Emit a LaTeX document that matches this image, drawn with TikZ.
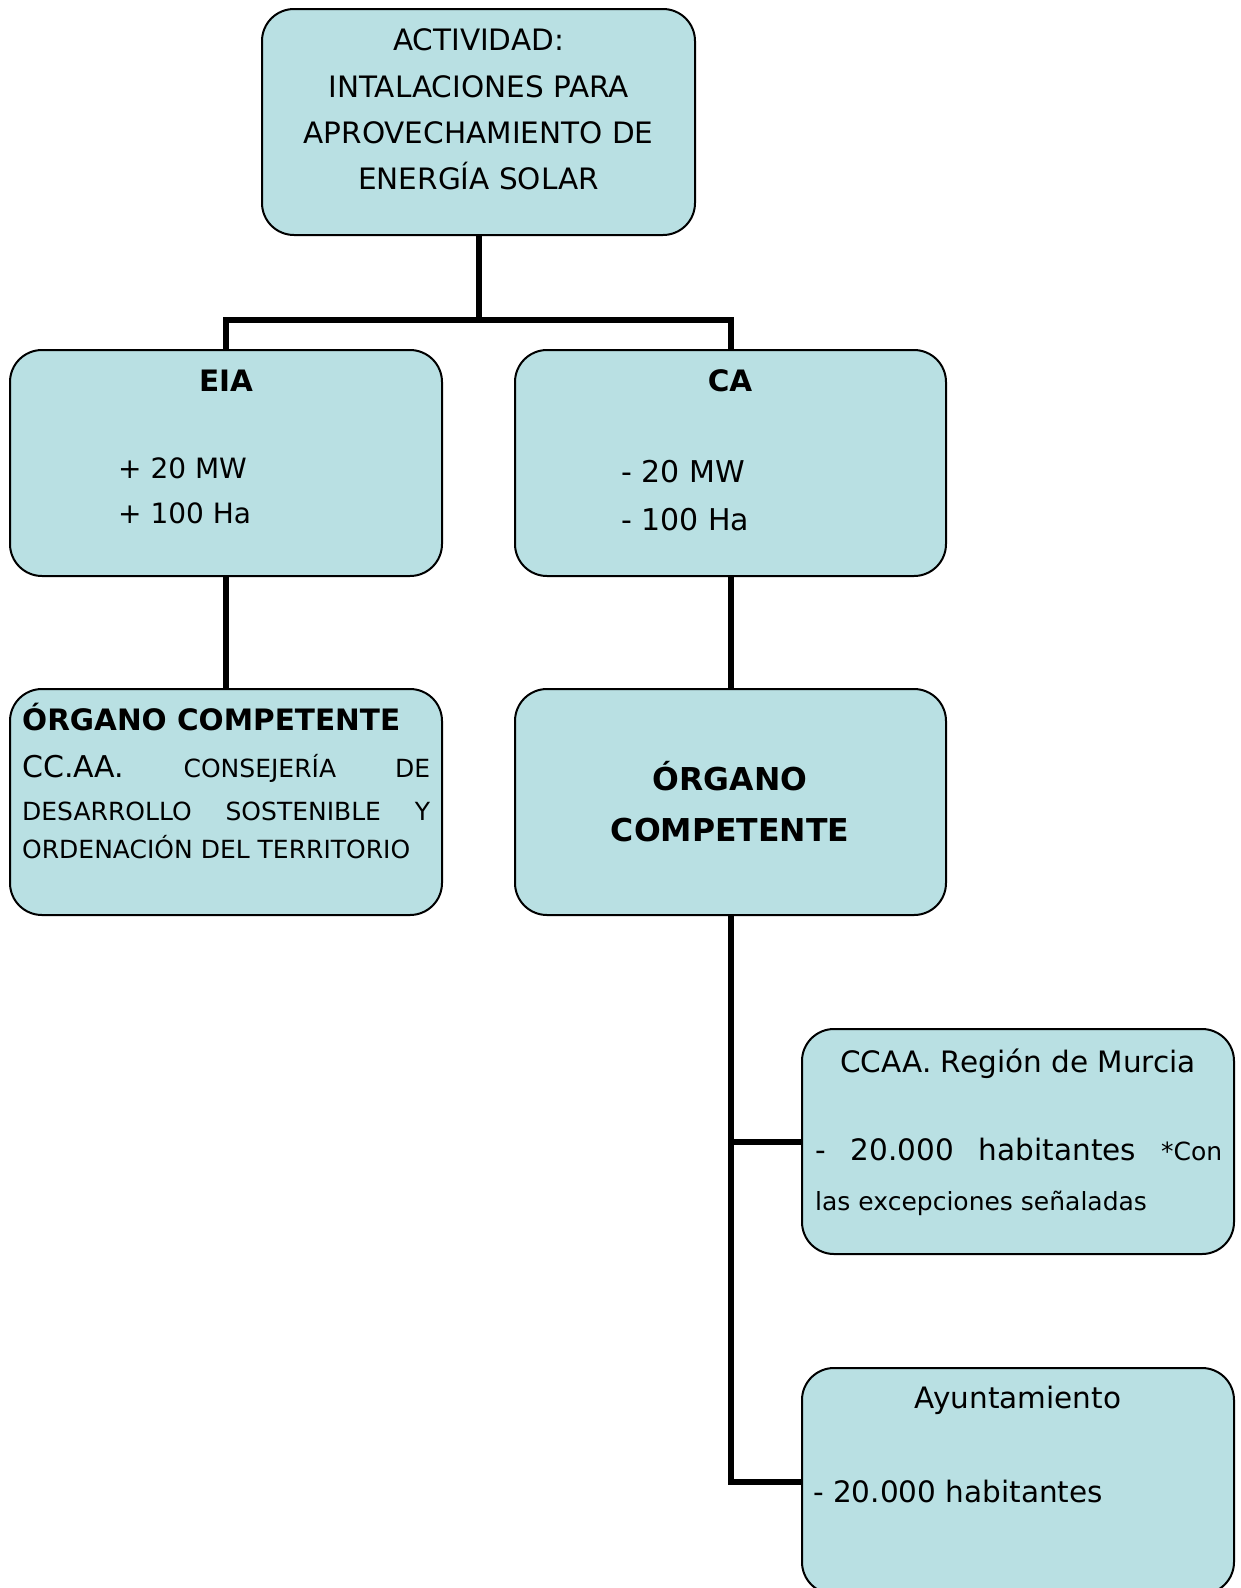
\documentclass[tikz,border=0pt]{standalone}
\usepackage{fontspec}
\setmainfont{DejaVu Sans}
\definecolor{boxfill}{RGB}{185,224,227}
\begin{document}
\begin{tikzpicture}[x=1pt,y=-1pt,
  box/.style={draw=black,line width=2pt,fill=boxfill,rounded corners=32pt,inner sep=0pt},
  conn/.style={line width=6pt,draw=black},
  big/.style={font=\fontsize{29.5}{34}\selectfont},
  bigb/.style={font=\fontsize{29.5}{34}\selectfont\bfseries},
  hugeb/.style={font=\fontsize{31.5}{36}\selectfont\bfseries},
  small/.style={font=\fontsize{25}{29}\selectfont},
  txt/.style={inner sep=0pt,anchor=base}]
\clip (0,0) rectangle (1240,1588);
\useasboundingbox (0,0) rectangle (1240,1588);
% boxes
\node[box,minimum width=433pt,minimum height=226pt] (top) at (478.5,122) {};
\node[box,minimum width=432pt,minimum height=226pt] (eia) at (226,463) {};
\node[box,minimum width=431pt,minimum height=226pt] (ca) at (730.5,463) {};
\node[box,minimum width=432pt,minimum height=226pt] (org1) at (226,802) {};
\node[box,minimum width=431pt,minimum height=226pt] (org2) at (730.5,802) {};
\node[box,minimum width=432pt,minimum height=225pt] (murcia) at (1018,1141.5) {};
\node[box,minimum width=432pt,minimum height=226pt] (ayto) at (1018,1481) {};
% connectors
\coordinate (split) at (478.5,320);
\draw[conn] (top.south) -- (split);
\draw[conn] (split) -| (eia.north);
\draw[conn] (split) -| (ca.north);
\draw[conn] (eia.south) -- (org1.north);
\draw[conn] (ca.south) -- (org2.north);
\draw[conn] (org2.south) |- (ayto.west |- 0,1482);
\draw[conn] (org2.south |- 0,1142) -- (murcia.west |- 0,1142);
% texts top
\node[txt,big] (t1) at (478.5,50) {ACTIVIDAD:};
\node[txt,big] (t2) at (478.5,97) {INTALACIONES PARA};
\node[txt,big] (t3) at (478.5,143) {APROVECHAMIENTO DE};
\node[txt,big] (t4) at (478.5,189) {ENERGÍA SOLAR};
% EIA
\node[txt,bigb] (e1) at (226,391) {EIA};
\node[txt,font=\fontsize{28}{32}\selectfont,anchor=base west] (e2) at (118,478) {+ 20 MW};
\node[txt,font=\fontsize{28}{32}\selectfont,anchor=base west] (e3) at (118,523) {+ 100 Ha};
% CA
\node[txt,bigb] (c1) at (730,391) {CA};
\node[txt,font=\fontsize{30}{34}\selectfont,anchor=base west] (c2) at (621,482) {- 20 MW};
\node[txt,font=\fontsize{30}{34}\selectfont,anchor=base west] (c3) at (621,530) {- 100 Ha};
% organo 1
\node[txt,bigb,anchor=base west] (o1) at (22,730) {ÓRGANO COMPETENTE};
\node[txt,anchor=base west,text width=408pt,align=left] (o2) at (22,777)
  {\fontsize{25}{29}\selectfont{\fontsize{30}{34}\selectfont CC.AA.}\hfill CONSEJERÍA\hfill DE};
\node[txt,small,anchor=base west,text width=408pt,align=left] (o3) at (22,820)
  {DESARROLLO\hfill SOSTENIBLE\hfill Y};
\node[txt,small,anchor=base west] (o4) at (22,858) {ORDENACIÓN DEL TERRITORIO};
% organo 2
\node[txt,hugeb] (p1) at (730,790) {ÓRGANO};
\node[txt,hugeb] (p2) at (730,841) {COMPETENTE};
% murcia
\node[txt,big] (m1) at (1018,1072) {CCAA. Región de Murcia};
\node[txt,anchor=base west,text width=407pt,align=left] (m2) at (815,1160)
  {\fontsize{29.5}{34}\selectfont -\hfill 20.000\hfill habitantes\hfill{\fontsize{25}{29}\selectfont *Con}};
\node[txt,small,anchor=base west] (m3) at (815,1210) {las excepciones señaladas};
% ayuntamiento
\node[txt,big] (a1) at (1018,1408) {Ayuntamiento};
\node[txt,big,anchor=base west] (a2) at (813,1502) {- 20.000 habitantes};
\end{tikzpicture}
\end{document}
